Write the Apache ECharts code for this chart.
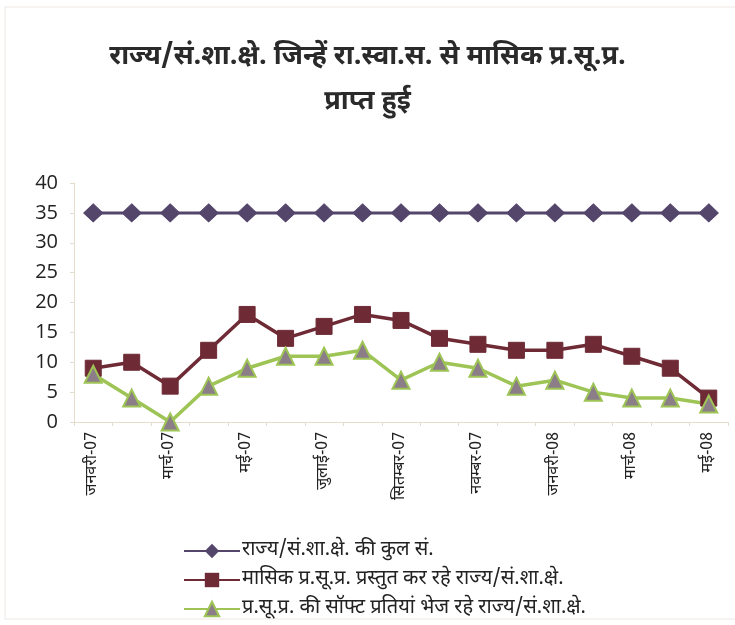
<!DOCTYPE html>
<html>
<head>
<meta charset="utf-8">
<script src="https://cdn.jsdelivr.net/npm/echarts@6/dist/echarts.min.js"></script>
<style>
  html, body { margin: 0; padding: 0; background: #ffffff; }
  #chart { width: 735px; height: 625px; }
</style>
</head>
<body>
<div id="chart"></div>
<script>
// Months Jan-07 .. May-08
const months = [
  'जनवरी-07', 'फरवरी-07', 'मार्च-07', 'अप्रैल-07', 'मई-07', 'जून-07',
  'जुलाई-07', 'अगस्त-07', 'सितम्बर-07', 'अक्टूबर-07', 'नवम्बर-07', 'दिसम्बर-07',
  'जनवरी-08', 'फरवरी-08', 'मार्च-08', 'अप्रैल-08', 'मई-08'
];
const totalStates = [35, 35, 35, 35, 35, 35, 35, 35, 35, 35, 35, 35, 35, 35, 35, 35, 35];
const monthlyReporting = [9, 10, 6, 12, 18, 14, 16, 18, 17, 14, 13, 12, 12, 13, 11, 9, 4];
const softCopies = [8, 4, 0, 6, 9, 11, 11, 12, 7, 10, 9, 6, 7, 5, 4, 4, 3];

const seriesNames = [
  'राज्य/सं.शा.क्षे. की कुल सं.',
  'मासिक प्र.सू.प्र. प्रस्तुत कर रहे राज्य/सं.शा.क्षे.',
  'प्र.सू.प्र. की सॉफ्ट प्रतियां भेज रहे राज्य/सं.शा.क्षे.'
];
const yTicks = [0, 5, 10, 15, 20, 25, 30, 35, 40];

const FONT = '"Noto Sans Devanagari", "Lohit Devanagari", "FreeSans", "Noto Sans", sans-serif';
const axisColor = '#e6dccd';

const chart = echarts.init(document.getElementById('chart'), null, { renderer: 'canvas' });
chart.setOption({
  backgroundColor: '#ffffff',
  animation: false,
  title: {
    text: 'राज्य/सं.शा.क्षे. जिन्हें रा.स्वा.स. से मासिक प्र.सू.प्र.\nप्राप्त हुई',
    left: 'center',
    top: 31,
    textStyle: {
      fontFamily: FONT,
      fontSize: 27,
      fontWeight: 'bold',
      color: '#2a2a2a',
      lineHeight: 45
    }
  },
  graphic: [{
    type: 'rect',
    shape: { x: 5, y: 7, width: 740, height: 612 },
    style: { fill: 'none', stroke: '#ece6e2', lineWidth: 1 },
    silent: true
  }],
  legend: {
    orient: 'vertical',
    left: 178,
    top: 536,
    itemGap: 9,
    itemWidth: 56,
    itemHeight: 18,
    data: seriesNames,
    textStyle: { fontFamily: FONT, fontSize: 20, color: '#222', padding: [0, 0, 0, -3] }
  },
  grid: { left: 74, right: 7, top: 183, bottom: 203 },
  xAxis: {
    type: 'category',
    data: months,
    boundaryGap: true,
    axisLine: { lineStyle: { color: axisColor, width: 1 } },
    axisTick: { show: true, interval: 0, length: 4, lineStyle: { color: axisColor } },
    axisLabel: {
      interval: 1,
      rotate: 90,
      margin: 10,
      fontFamily: FONT,
      fontSize: 16,
      color: '#222'
    }
  },
  yAxis: {
    type: 'value',
    min: yTicks[0],
    max: yTicks[yTicks.length - 1],
    interval: 5,
    axisLine: { show: true, lineStyle: { color: axisColor, width: 1 } },
    axisTick: { show: true, length: 4, lineStyle: { color: axisColor } },
    splitLine: { show: false },
    axisLabel: {
      margin: 16,
      fontFamily: '"Open Sans", "DejaVu Sans", sans-serif',
      fontSize: 20,
      color: '#222'
    }
  },
  series: [
    {
      name: seriesNames[0],
      type: 'line',
      data: totalStates,
      symbol: 'diamond',
      symbolSize: [19, 18],
      lineStyle: { color: '#54456b', width: 3 },
      itemStyle: { color: '#54456b', borderColor: '#54456b' }
    },
    {
      name: seriesNames[1],
      type: 'line',
      data: monthlyReporting,
      symbol: 'rect',
      symbolSize: 16,
      lineStyle: { color: '#6e2b35', width: 3.5 },
      itemStyle: { color: '#6e2b35', borderColor: '#6e2b35' }
    },
    {
      name: seriesNames[2],
      type: 'line',
      data: softCopies,
      symbol: 'triangle',
      symbolSize: 17,
      lineStyle: { color: '#9dc455', width: 3.5 },
      itemStyle: { color: '#8c7e88', borderColor: '#9dc455', borderWidth: 2 }
    }
  ]
});
</script>
</body>
</html>
